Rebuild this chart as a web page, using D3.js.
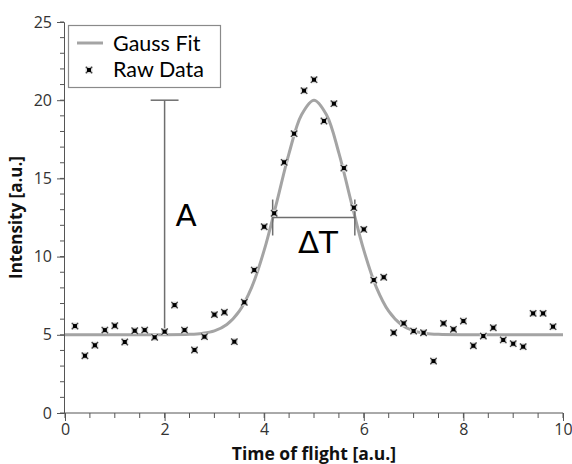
<!DOCTYPE html>
<html>
<head>
<meta charset="utf-8">
<script src="https://cdn.jsdelivr.net/npm/d3@7"></script>
<style>
  html, body { margin: 0; padding: 0; background: #fff; }
  svg { display: block; font-family: "Open Sans", "DejaVu Sans", sans-serif; }
</style>
</head>
<body>
<svg id="chart" width="572" height="464"></svg>
<script>
// ---- data ----
const rawX = [0.2,0.4,0.6,0.8,1.0,1.2,1.4,1.6,1.8,2.0,2.2,2.4,2.6,2.8,3.0,3.2,3.4,3.6,3.8,4.0,4.2,4.4,4.6,4.8,5.0,5.2,5.4,5.6,5.8,6.0,6.2,6.4,6.6,6.8,7.0,7.2,7.4,7.6,7.8,8.0,8.2,8.4,8.6,8.8,9.0,9.2,9.4,9.6,9.8];
const rawY = [5.56,3.66,4.33,5.30,5.58,4.54,5.26,5.30,4.84,5.20,6.90,5.30,4.03,4.88,6.29,6.44,4.56,7.08,9.14,11.91,12.77,16.03,17.86,20.61,21.31,18.67,19.78,15.66,13.13,11.74,8.50,8.68,5.13,5.73,5.24,5.13,3.32,5.73,5.35,5.88,4.30,4.92,5.45,4.67,4.43,4.24,6.37,6.37,5.52];

const fitX = [0,1,2,2.5,2.75,3,3.25,3.5,3.75,4,4.25,4.5,4.75,5,5.25,5.5,5.75,6,6.25,6.5,6.75,7,7.25,7.5,8,9,10];
const fitY = [5.00,5.00,5.00,5.03,5.09,5.25,5.66,6.51,8.05,10.41,13.45,16.62,19.07,20.00,19.07,16.62,13.45,10.41,8.05,6.51,5.66,5.25,5.09,5.03,5.00,5.00,5.00];

const xTicks = [0,2,4,6,8,10];
const yTicks = [0,5,10,15,20,25];
const seriesNames = ["Gauss Fit", "Raw Data"];

// annotations
const annA = {x: 2.0, y0: 5.0, y1: 20.0, cap: 0.28, label: "A", lx: 2.43, ly: 11.96};
const annT = {x0: 4.17, x1: 5.82, y: 12.5, tick: 1.15, label: "ΔT", lx: 5.08, ly: 10.23};

// ---- layout ----
const W = 572, H = 464;
const margin = {left: 64, right: 9, top: 22, bottom: 51};
const svg = d3.select("#chart");

const x = d3.scaleLinear().domain([0, 10]).range([margin.left + 1, W - margin.right]);
const y = d3.scaleLinear().domain([0, 25]).range([H - margin.bottom, margin.top]);

const axisColor = "#555";
const textColor = "#333";
const tickFont = "'Open Sans', 'DejaVu Sans', sans-serif";

// y axis minor ticks
const yMinor = d3.range(0, 26, 1);
const gy = svg.append("g").attr("transform", `translate(${margin.left},0)`);
gy.selectAll(".minor").data(yMinor).enter().append("line")
  .attr("x1", -4).attr("x2", 0).attr("y1", d => y(d)).attr("y2", d => y(d))
  .attr("stroke", axisColor);
const gyMaj = svg.append("g").attr("transform", `translate(${margin.left},0)`)
  .call(d3.axisLeft(y).tickValues(yTicks).tickSize(7).tickPadding(5).tickFormat(d3.format("d")));
gyMaj.select(".domain").attr("stroke", axisColor);
gyMaj.selectAll(".tick line").attr("stroke", axisColor);
gyMaj.selectAll(".tick text").attr("fill", textColor).style("font-size", "16px")
  .style("font-family", tickFont);

// x axis
const xMinor = d3.range(0, 10.01, 0.5);
const gx = svg.append("g").attr("transform", `translate(0,${H - margin.bottom})`);
gx.selectAll(".minor").data(xMinor).enter().append("line")
  .attr("x1", d => x(d)).attr("x2", d => x(d)).attr("y1", 0).attr("y2", 5)
  .attr("stroke", axisColor);
const gxMaj = svg.append("g").attr("transform", `translate(0,${H - margin.bottom})`)
  .call(d3.axisBottom(x).tickValues(xTicks).tickSize(8).tickPadding(3).tickFormat(d3.format("d")));
gxMaj.select(".domain").attr("stroke", axisColor).attr("d", `M${margin.left},0H${W - margin.right}`);
gxMaj.selectAll(".tick line").attr("stroke", axisColor);
gxMaj.selectAll(".tick text").attr("fill", textColor).style("font-size", "16px")
  .style("font-family", tickFont);

// axis titles
svg.append("text")
  .attr("x", (x(0) + x(10)) / 2).attr("y", H - 4)
  .attr("text-anchor", "middle")
  .style("font-size", "17.5px").style("font-weight", "bold").attr("fill", "#111")
  .text("Time of flight [a.u.]");
svg.append("text")
  .attr("transform", `translate(22,${(y(0) + y(25)) / 2}) rotate(-90)`)
  .attr("text-anchor", "middle")
  .style("font-size", "17px").style("font-weight", "bold").attr("fill", "#111")
  .text("Intensity [a.u.]");

// fit curve
const fitData = fitX.map((v, i) => [v, fitY[i]]);
svg.append("path")
  .datum(fitData)
  .attr("fill", "none")
  .attr("stroke", "#a4a4a4")
  .attr("stroke-width", 3)
  .attr("d", d3.line().x(d => x(d[0])).y(d => y(d[1])).curve(d3.curveCatmullRom));

// annotation A
const annColor = "#6e6e6e";
svg.append("line").attr("x1", x(annA.x)).attr("x2", x(annA.x))
  .attr("y1", y(annA.y0)).attr("y2", y(annA.y1))
  .attr("stroke", annColor).attr("stroke-width", 1.5);
svg.append("line").attr("x1", x(annA.x - annA.cap)).attr("x2", x(annA.x + annA.cap))
  .attr("y1", y(annA.y1)).attr("y2", y(annA.y1))
  .attr("stroke", annColor).attr("stroke-width", 1.5);
svg.append("text").attr("x", x(annA.lx)).attr("y", y(annA.ly))
  .attr("text-anchor", "middle").style("font-size", "31px").attr("fill", "#000")
  .style("font-family", "'DejaVu Sans', sans-serif")
  .text(annA.label);

// annotation ΔT
svg.append("line").attr("x1", x(annT.x0)).attr("x2", x(annT.x1))
  .attr("y1", y(annT.y)).attr("y2", y(annT.y))
  .attr("stroke", annColor).attr("stroke-width", 1.5);
[annT.x0, annT.x1].forEach(v => {
  svg.append("line").attr("x1", x(v)).attr("x2", x(v))
    .attr("y1", y(annT.y + annT.tick)).attr("y2", y(annT.y - annT.tick))
    .attr("stroke", annColor).attr("stroke-width", 1.5);
});
svg.append("text").attr("x", x(annT.lx)).attr("y", y(annT.ly))
  .attr("text-anchor", "middle").style("font-size", "31px").attr("fill", "#000")
  .style("font-family", "'DejaVu Sans', sans-serif")
  .text(annT.label);

// markers
function marker(g, cx, cy) {
  const m = g.append("g").attr("transform", `translate(${cx},${cy})`);
  m.append("rect").attr("x", -3.5).attr("y", -3.5).attr("width", 7).attr("height", 7)
    .attr("fill", "#ddd").attr("stroke", "none");
  m.append("path").attr("d", "M-3.2,-3.2L3.2,3.2M-3.2,3.2L3.2,-3.2").attr("stroke", "#444").attr("stroke-width", 1.3);
  m.append("rect").attr("x", -2).attr("y", -2).attr("width", 4).attr("height", 4).attr("fill", "#000");
}
const gm = svg.append("g");
rawX.forEach((v, i) => marker(gm, x(v), y(rawY[i])));

// legend
const lg = svg.append("g").attr("transform", "translate(68,25)");
lg.append("rect").attr("x", 0.5).attr("y", 0.5).attr("width", 152).attr("height", 62)
  .attr("fill", "#fff").attr("stroke", "#8a8a8a").attr("stroke-width", 1.2);
lg.append("line").attr("x1", 9).attr("x2", 35).attr("y1", 18).attr("y2", 18)
  .attr("stroke", "#a4a4a4").attr("stroke-width", 3);
marker(lg, 21, 45);
lg.selectAll("text.leg").data(seriesNames).enter().append("text")
  .attr("x", 45).attr("y", (d, i) => 26 + i * 26)
  .style("font-size", "21.5px").style("font-family", "Lato, 'DejaVu Sans', sans-serif").attr("fill", "#000")
  .text(d => d);
</script>
</body>
</html>
